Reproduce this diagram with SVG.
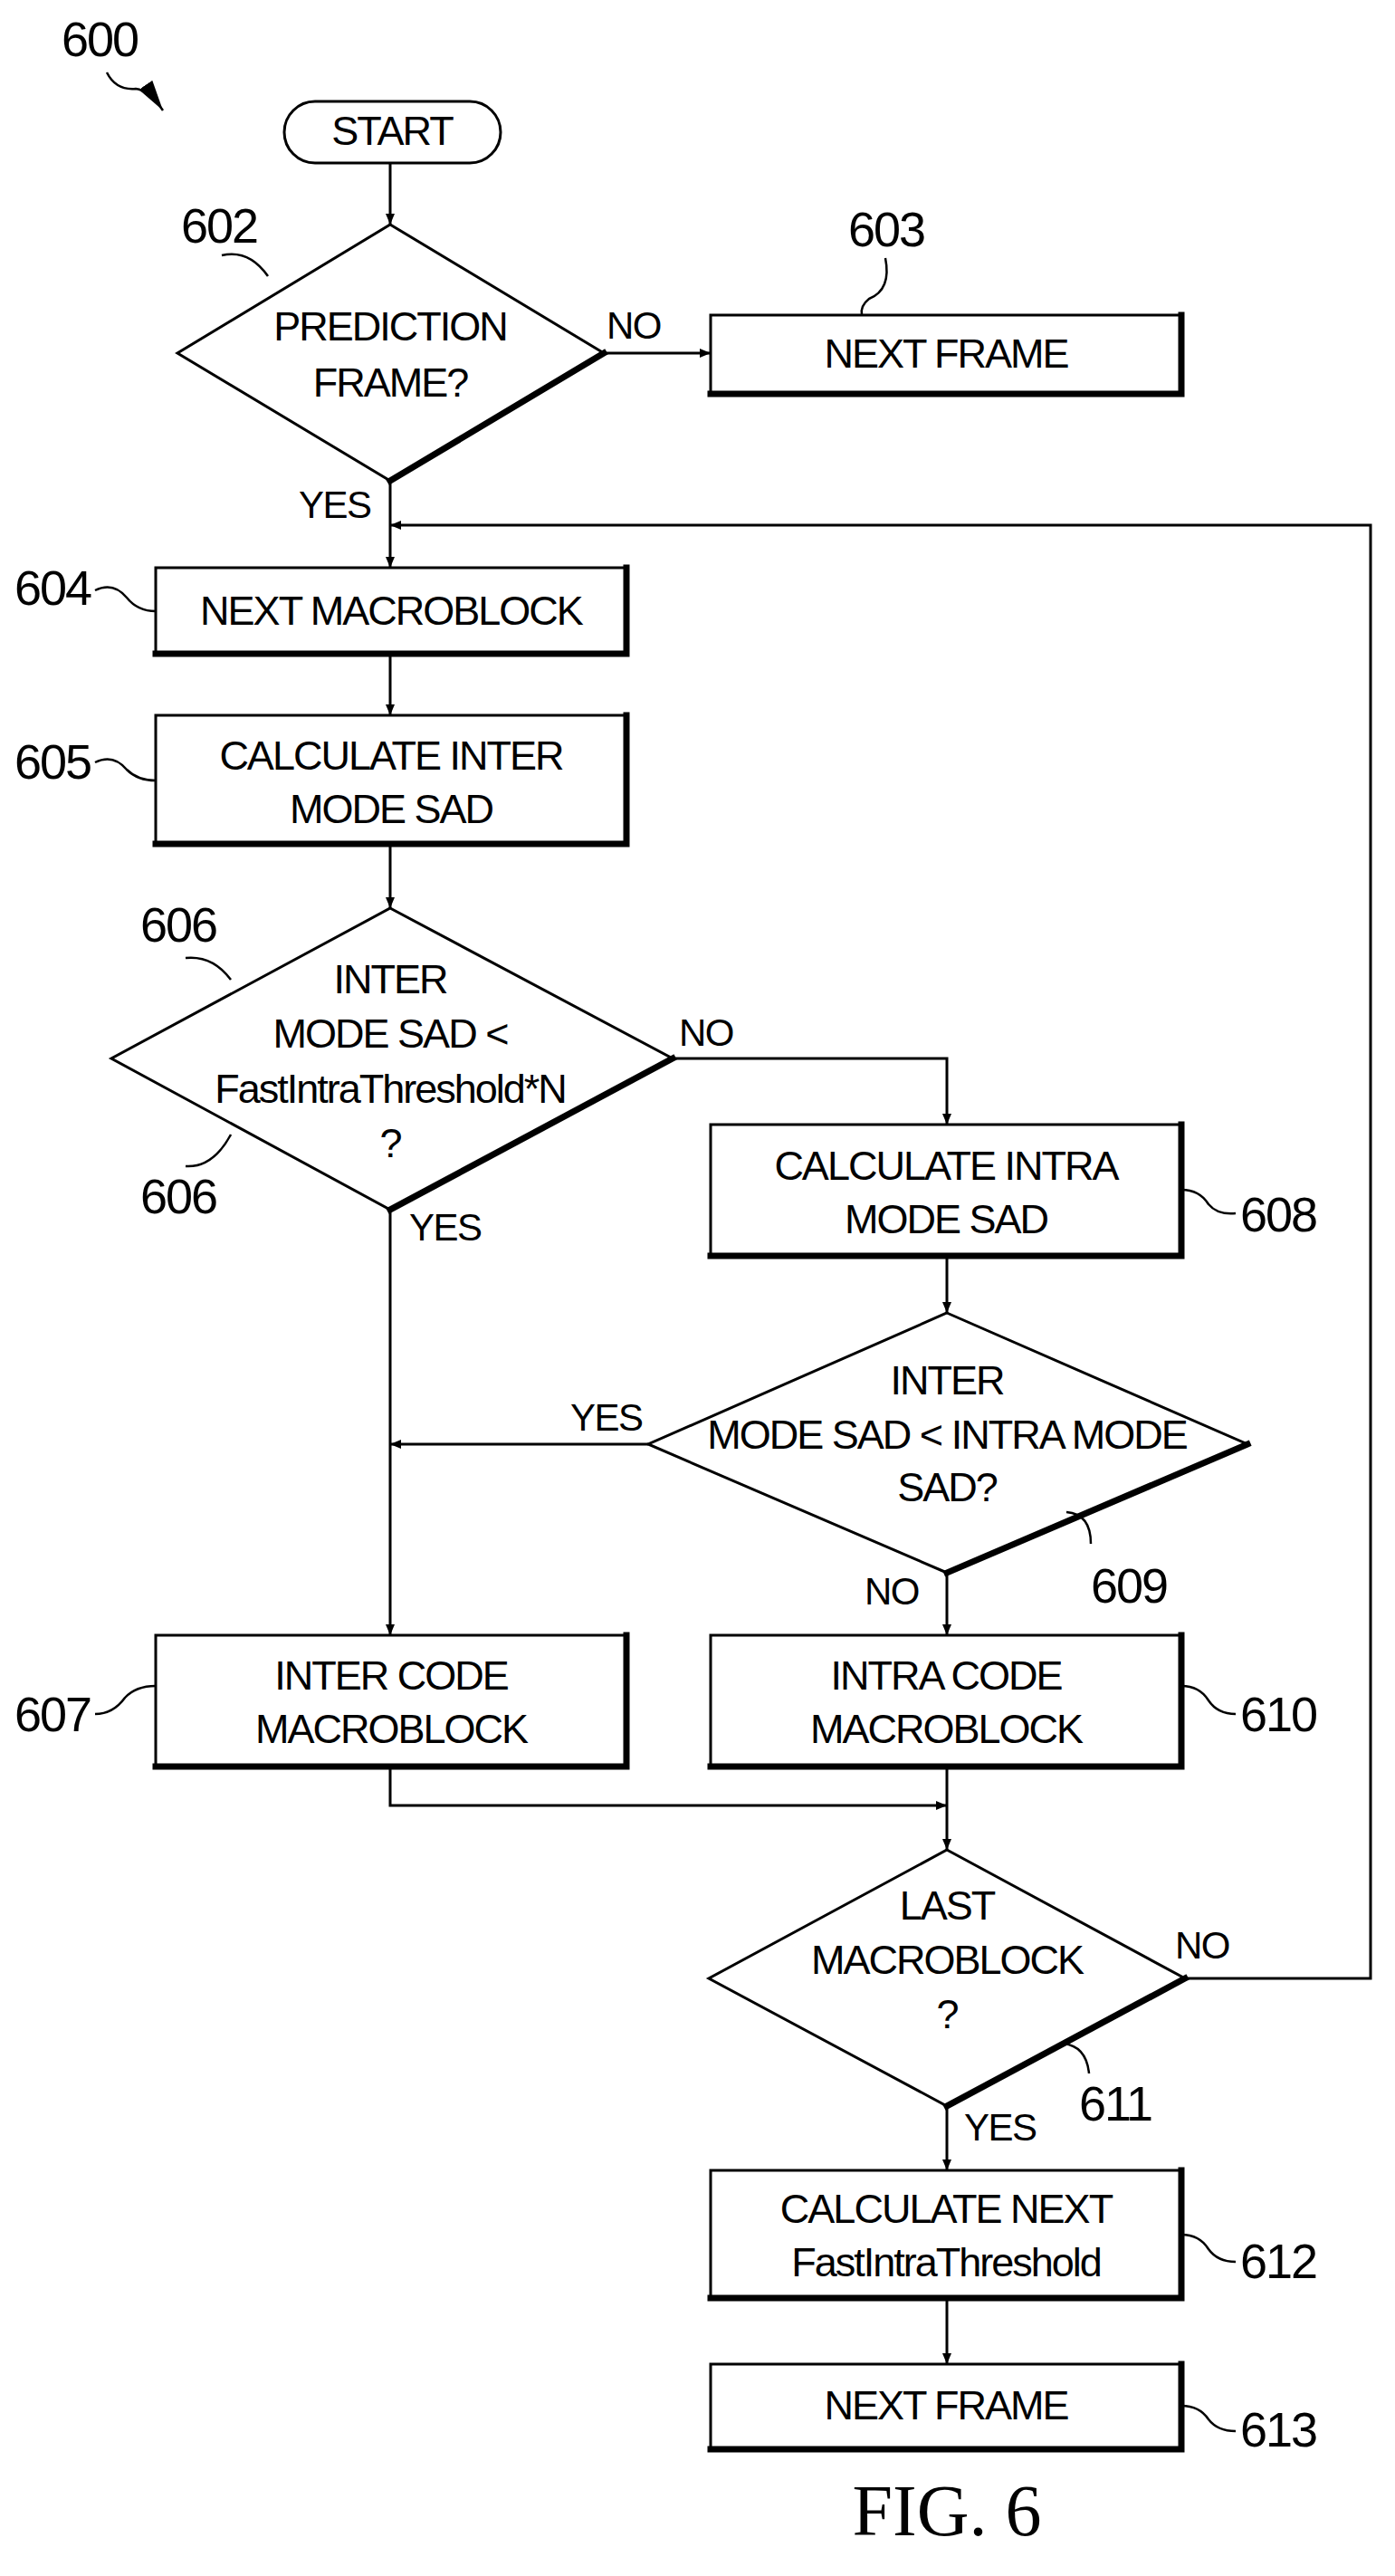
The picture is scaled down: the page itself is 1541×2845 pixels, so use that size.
<svg xmlns="http://www.w3.org/2000/svg" width="1541" height="2845" viewBox="0 0 1541 2845">
<style>
.s{fill:none;stroke:#000;stroke-width:3}
.sh{fill:none;stroke:#000;stroke-width:7;stroke-linecap:square}
.c{stroke:#000;stroke-width:3;fill:none}
.t{font-family:"Liberation Sans",Arial,sans-serif;font-size:45px;text-anchor:middle;letter-spacing:-2px}
.n{font-family:"Liberation Sans",Arial,sans-serif;font-size:54px;letter-spacing:-2px}
.l{font-family:"Liberation Sans",Arial,sans-serif;font-size:42px;letter-spacing:-1.5px}
.ld{fill:none;stroke:#000;stroke-width:2.5}
</style>
<defs>
<marker id="a" markerWidth="12" markerHeight="10" refX="12" refY="5" orient="auto" markerUnits="userSpaceOnUse" viewBox="0 0 12 10">
<path d="M0,0L12,5L0,10z" fill="#000"/>
</marker>
<marker id="b" markerWidth="34" markerHeight="18" refX="34" refY="9" orient="auto" markerUnits="userSpaceOnUse" viewBox="0 0 34 18">
<path d="M0,0L34,9L0,18z" fill="#000"/>
</marker>
</defs>
<rect width="1541" height="2845" fill="#fff"/>
<g id="label600">
<text class="n" x="68" y="62">600</text>
<path class="ld" d="M118,80 Q128,100 150,98 Q165,100 180,122" marker-end="url(#b)"/>
</g>
<g id="start">
<rect class="s" x="314" y="112" width="239" height="68" rx="34"/>
<text class="t" x="433" y="160">START</text>
</g>
<g id="n602">
<path class="s" d="M431,248L667,390L431,531L196,390z"/>
<path class="sh" d="M667,390L431,531"/>
<text class="t" x="431" y="376">PREDICTION</text>
<text class="t" x="431" y="438">FRAME?</text>
<text class="n" x="200" y="268">602</text>
<path class="ld" d="M245,282 Q275,275 296,305"/>
</g>
<g id="n603">
<rect class="s" x="785" y="348" width="520" height="87"/>
<path class="sh" d="M1305,348L1305,435L785,435"/>
<text class="t" x="1045" y="406">NEXT FRAME</text>
<text class="n" x="937" y="272">603</text>
<path class="ld" d="M978,285 Q985,320 960,330 Q950,338 952,348"/>
</g>
<g id="n604">
<rect class="s" x="172" y="627" width="520" height="95"/>
<path class="sh" d="M692,627L692,722L172,722"/>
<text class="t" x="432" y="690">NEXT MACROBLOCK</text>
<text class="n" x="16" y="668">604</text>
<path class="ld" d="M105,652 Q125,642 140,660 Q152,675 172,675"/>
</g>
<g id="n605">
<rect class="s" x="172" y="790" width="520" height="142"/>
<path class="sh" d="M692,790L692,932L172,932"/>
<text class="t" x="432" y="850">CALCULATE INTER</text>
<text class="t" x="432" y="909">MODE SAD</text>
<text class="n" x="16" y="860">605</text>
<path class="ld" d="M105,842 Q125,832 140,850 Q152,862 172,862"/>
</g>
<g id="n606">
<path class="s" d="M431,1003L743,1169L431,1336L123,1169z"/>
<path class="sh" d="M743,1169L431,1336"/>
<text class="t" x="431" y="1097">INTER</text>
<text class="t" x="431" y="1157">MODE SAD &lt;</text>
<text class="t" x="431" y="1218">FastIntraThreshold*N</text>
<text class="t" x="431" y="1278">?</text>
<text class="n" x="155" y="1040">606</text>
<path class="ld" d="M205,1058 Q235,1055 255,1082"/>
<text class="n" x="155" y="1340">606</text>
<path class="ld" d="M205,1288 Q235,1290 255,1253"/>
</g>
<g id="n608">
<rect class="s" x="785" y="1242" width="520" height="145"/>
<path class="sh" d="M1305,1242L1305,1387L785,1387"/>
<text class="t" x="1045" y="1303">CALCULATE INTRA</text>
<text class="t" x="1045" y="1362">MODE SAD</text>
<text class="n" x="1370" y="1360">608</text>
<path class="ld" d="M1305,1314 Q1325,1314 1335,1330 Q1345,1342 1365,1340"/>
</g>
<g id="n609">
<path class="s" d="M1046,1450L1378,1595L1046,1737L716,1595z"/>
<path class="sh" d="M1378,1595L1046,1737"/>
<text class="t" x="1046" y="1540">INTER</text>
<text class="t" x="1046" y="1600">MODE SAD &lt; INTRA MODE</text>
<text class="t" x="1046" y="1658">SAD?</text>
<text class="n" x="1205" y="1770">609</text>
<path class="ld" d="M1178,1670 Q1205,1672 1205,1705"/>
</g>
<g id="n607">
<rect class="s" x="172" y="1806" width="520" height="145"/>
<path class="sh" d="M692,1806L692,1951L172,1951"/>
<text class="t" x="432" y="1866">INTER CODE</text>
<text class="t" x="432" y="1925">MACROBLOCK</text>
<text class="n" x="16" y="1912">607</text>
<path class="ld" d="M105,1893 Q125,1893 138,1875 Q150,1862 172,1862"/>
</g>
<g id="n610">
<rect class="s" x="785" y="1806" width="520" height="145"/>
<path class="sh" d="M1305,1806L1305,1951L785,1951"/>
<text class="t" x="1045" y="1866">INTRA CODE</text>
<text class="t" x="1045" y="1925">MACROBLOCK</text>
<text class="n" x="1370" y="1912">610</text>
<path class="ld" d="M1305,1862 Q1325,1862 1335,1878 Q1345,1893 1365,1893"/>
</g>
<g id="n611">
<path class="s" d="M1046,2043L1309,2185L1046,2326L783,2185z"/>
<path class="sh" d="M1309,2185L1046,2326"/>
<text class="t" x="1046" y="2120">LAST</text>
<text class="t" x="1046" y="2180">MACROBLOCK</text>
<text class="t" x="1046" y="2240">?</text>
<text class="n" x="1192" y="2342">611</text>
<path class="ld" d="M1175,2257 Q1200,2260 1203,2290"/>
</g>
<g id="n612">
<rect class="s" x="785" y="2397" width="520" height="141"/>
<path class="sh" d="M1305,2397L1305,2538L785,2538"/>
<text class="t" x="1045" y="2455">CALCULATE NEXT</text>
<text class="t" x="1045" y="2514">FastIntraThreshold</text>
<text class="n" x="1370" y="2516">612</text>
<path class="ld" d="M1305,2468 Q1325,2468 1335,2484 Q1345,2498 1365,2498"/>
</g>
<g id="n613">
<rect class="s" x="785" y="2611" width="520" height="94"/>
<path class="sh" d="M1305,2611L1305,2705L785,2705"/>
<text class="t" x="1045" y="2672">NEXT FRAME</text>
<text class="n" x="1370" y="2702">613</text>
<path class="ld" d="M1305,2657 Q1325,2657 1335,2672 Q1345,2685 1365,2685"/>
</g>
<g id="connectors">
<path class="c" d="M431,180V248" marker-end="url(#a)"/>
<path class="c" d="M667,390H785" marker-end="url(#a)"/>
<path class="c" d="M431,531V627" marker-end="url(#a)"/>
<path class="c" d="M431,722V790" marker-end="url(#a)"/>
<path class="c" d="M431,932V1003" marker-end="url(#a)"/>
<path class="c" d="M743,1169H1046V1242" marker-end="url(#a)"/>
<path class="c" d="M1046,1387V1450" marker-end="url(#a)"/>
<path class="c" d="M716,1595H431" marker-end="url(#a)"/>
<path class="c" d="M431,1336V1806" marker-end="url(#a)"/>
<path class="c" d="M1046,1737V1806" marker-end="url(#a)"/>
<path class="c" d="M431,1951V1994H1046" marker-end="url(#a)"/>
<path class="c" d="M1046,1951V2043" marker-end="url(#a)"/>
<path class="c" d="M1309,2185H1514V580H431" marker-end="url(#a)"/>
<path class="c" d="M1046,2326V2397" marker-end="url(#a)"/>
<path class="c" d="M1046,2538V2611" marker-end="url(#a)"/>
<text class="l" x="330" y="572">YES</text>
<text class="l" x="670" y="374">NO</text>
<text class="l" x="750" y="1155">NO</text>
<text class="l" x="452" y="1370">YES</text>
<text class="l" x="630" y="1580">YES</text>
<text class="l" x="955" y="1772">NO</text>
<text class="l" x="1298" y="2163">NO</text>
<text class="l" x="1065" y="2364">YES</text>
</g>
<text x="1046" y="2800" font-family="Liberation Serif,serif" font-size="80" text-anchor="middle">FIG. 6</text>
</svg>
